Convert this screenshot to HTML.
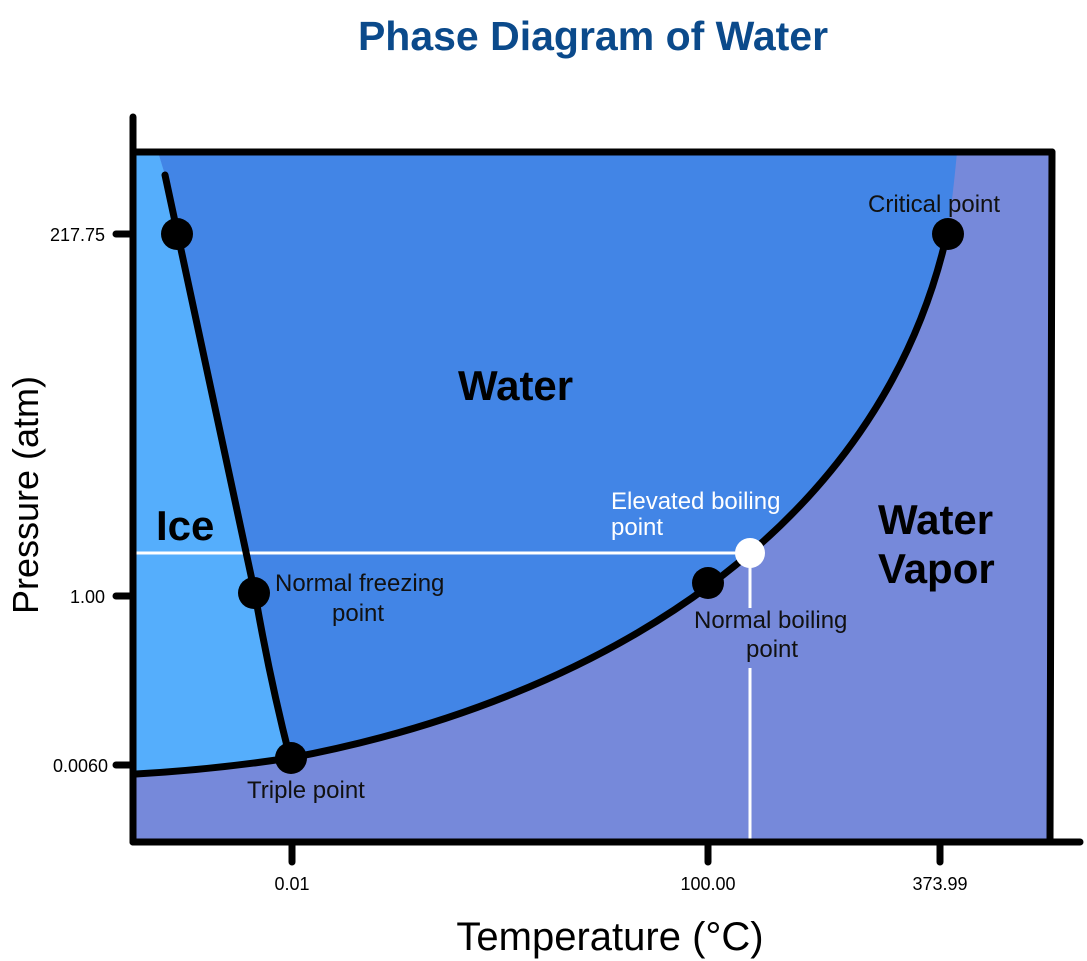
<!DOCTYPE html>
<html><head><meta charset="utf-8"><style>
html,body{margin:0;padding:0;background:#fff;}
svg{display:block;font-family:"Liberation Sans",Arial,sans-serif;}
</style></head><body>
<svg width="1087" height="961" viewBox="0 0 1087 961" xmlns="http://www.w3.org/2000/svg">
<rect width="1087" height="961" fill="#fff"/>
<rect x="133" y="152" width="917" height="690" fill="#7689DA"/>
<path d="M158,152 L957,152 C954,185 951,210 947,234 C880,530 600,700 290,758 Q270,680 255,594 L165,175 Z" fill="#4285E6"/>
<path d="M133,152 L158,152 L165,175 L255,594 Q270,680 290,758 Q210,770 133,774 Z" fill="#55AEFC"/>
<g stroke="#fff" stroke-width="3">
<line x1="133" y1="553" x2="750" y2="553"/>
<line x1="750" y1="560" x2="750" y2="608"/>
<line x1="750" y1="668" x2="750" y2="842"/>
</g>
<g fill="none" stroke="#000" stroke-width="7" stroke-linecap="round">
<path d="M165,175 L255,594 Q270,680 290,758"/>
<path d="M136,774 Q210,770 290,758 C600,700 880,530 947,234"/>
</g>
<g stroke="#000" stroke-width="7" stroke-linecap="round" fill="none">
<line x1="133" y1="117" x2="133" y2="842"/>
<line x1="133" y1="152" x2="1052" y2="152"/>
<line x1="1052" y1="152" x2="1050" y2="842"/>
<line x1="133" y1="842" x2="1080" y2="842"/>
<line x1="116" y1="234" x2="133" y2="234"/>
<line x1="116" y1="596" x2="133" y2="596"/>
<line x1="116" y1="765" x2="133" y2="765"/>
<line x1="292" y1="842" x2="292" y2="862"/>
<line x1="708" y1="842" x2="708" y2="862"/>
<line x1="940" y1="842" x2="940" y2="862"/>
</g>
<g fill="#000">
<circle cx="177" cy="234" r="16"/>
<circle cx="254" cy="593" r="16"/>
<circle cx="291" cy="758" r="16"/>
<circle cx="708" cy="583" r="16"/>
<circle cx="948" cy="234" r="16"/>
</g>
<circle cx="750" cy="553" r="15" fill="#fff"/>
<text x="593" y="50" text-anchor="middle" font-size="41" font-weight="bold" fill="#0B4A8B">Phase Diagram of Water</text>
<g font-size="18" fill="#000" text-anchor="end">
<text x="105" y="241">217.75</text>
<text x="105" y="603">1.00</text>
<text x="108" y="772">0.0060</text>
</g>
<g font-size="18" fill="#000" text-anchor="middle">
<text x="292" y="890">0.01</text>
<text x="708" y="890">100.00</text>
<text x="940" y="890">373.99</text>
</g>
<text x="610" y="950" text-anchor="middle" font-size="40" fill="#000">Temperature (°C)</text>
<text transform="translate(38,495) rotate(-90)" text-anchor="middle" font-size="36" fill="#000">Pressure (atm)</text>
<g font-weight="bold" font-size="42" fill="#000">
<text x="458" y="400">Water</text>
<text x="156" y="540">Ice</text>
<text x="878" y="534">Water</text>
<text x="878" y="583">Vapor</text>
</g>
<g font-size="24" fill="#111">
<text x="868" y="212">Critical point</text>
<text x="275" y="591">Normal freezing</text>
<text x="332" y="621">point</text>
<text x="247" y="798">Triple point</text>
<text x="694" y="628">Normal boiling</text>
<text x="746" y="657">point</text>
</g>
<g font-size="24" fill="#fff">
<text x="611" y="509">Elevated boiling</text>
<text x="611" y="535">point</text>
</g>
</svg>
</body></html>
